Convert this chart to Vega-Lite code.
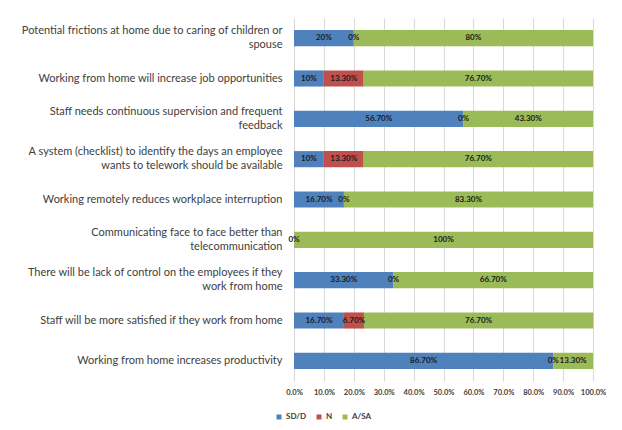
{
  "$schema": "https://vega.github.io/schema/vega-lite/v6.json",
  "width": 299,
  "height": 363,
  "autosize": {"type": "none"},
  "padding": {"left": 294, "top": 18, "right": 29, "bottom": 49},
  "background": "white",
  "config": {
    "font": "Lato",
    "view": {"stroke": null}
  },
  "data": {
    "values": [
      {"item": "Potential frictions at home due to caring of children or|spouse", "cat": "SD/D", "v": 20, "lab": "20%", "o": 1},
      {"item": "Potential frictions at home due to caring of children or|spouse", "cat": "N", "v": 0, "lab": "0%", "o": 2},
      {"item": "Potential frictions at home due to caring of children or|spouse", "cat": "A/SA", "v": 80, "lab": "80%", "o": 3},
      {"item": "Working from home will increase job opportunities", "cat": "SD/D", "v": 10, "lab": "10%", "o": 1},
      {"item": "Working from home will increase job opportunities", "cat": "N", "v": 13.3, "lab": "13.30%", "o": 2},
      {"item": "Working from home will increase job opportunities", "cat": "A/SA", "v": 76.7, "lab": "76.70%", "o": 3},
      {"item": "Staff needs continuous supervision and frequent|feedback", "cat": "SD/D", "v": 56.7, "lab": "56.70%", "o": 1},
      {"item": "Staff needs continuous supervision and frequent|feedback", "cat": "N", "v": 0, "lab": "0%", "o": 2},
      {"item": "Staff needs continuous supervision and frequent|feedback", "cat": "A/SA", "v": 43.3, "lab": "43.30%", "o": 3},
      {"item": "A system (checklist) to identify the days an employee|wants to telework should be available", "cat": "SD/D", "v": 10, "lab": "10%", "o": 1},
      {"item": "A system (checklist) to identify the days an employee|wants to telework should be available", "cat": "N", "v": 13.3, "lab": "13.30%", "o": 2},
      {"item": "A system (checklist) to identify the days an employee|wants to telework should be available", "cat": "A/SA", "v": 76.7, "lab": "76.70%", "o": 3},
      {"item": "Working remotely reduces workplace interruption", "cat": "SD/D", "v": 16.7, "lab": "16.70%", "o": 1},
      {"item": "Working remotely reduces workplace interruption", "cat": "N", "v": 0, "lab": "0%", "o": 2},
      {"item": "Working remotely reduces workplace interruption", "cat": "A/SA", "v": 83.3, "lab": "83.30%", "o": 3},
      {"item": "Communicating face to face better than|telecommunication", "cat": "SD/D", "v": 0, "lab": "0%", "o": 1},
      {"item": "Communicating face to face better than|telecommunication", "cat": "A/SA", "v": 100, "lab": "100%", "o": 3},
      {"item": "There will be lack of control on the employees if they|work from home", "cat": "SD/D", "v": 33.3, "lab": "33.30%", "o": 1},
      {"item": "There will be lack of control on the employees if they|work from home", "cat": "N", "v": 0, "lab": "0%", "o": 2},
      {"item": "There will be lack of control on the employees if they|work from home", "cat": "A/SA", "v": 66.7, "lab": "66.70%", "o": 3},
      {"item": "Staff will be more satisfied if they work from home", "cat": "SD/D", "v": 16.7, "lab": "16.70%", "o": 1},
      {"item": "Staff will be more satisfied if they work from home", "cat": "N", "v": 6.7, "lab": "6.70%", "o": 2},
      {"item": "Staff will be more satisfied if they work from home", "cat": "A/SA", "v": 76.7, "lab": "76.70%", "o": 3},
      {"item": "Working from home increases productivity", "cat": "SD/D", "v": 86.7, "lab": "86.70%", "o": 1},
      {"item": "Working from home increases productivity", "cat": "N", "v": 0, "lab": "0%", "o": 2},
      {"item": "Working from home increases productivity", "cat": "A/SA", "v": 13.3, "lab": "13.30%", "o": 3}
    ]
  },
  "encoding": {
    "y": {
      "field": "item",
      "type": "nominal",
      "sort": null,
      "title": null,
      "scale": {"paddingInner": 0.6, "paddingOuter": 0.3},
      "axis": {
        "labelExpr": "split(datum.value, '|')",
        "labelFontSize": 11,
        "labelColor": "#404040",
        "labelLineHeight": 14,
        "labelPadding": 12,
        "labelLimit": 300,
        "labelOffset": {"condition": {"test": "indexof(datum.value, '|') >= 0", "value": -7}, "value": 0},
        "ticks": false,
        "domain": true,
        "domainColor": "#D9D9D9",
        "grid": false
      }
    },
    "x": {
      "field": "v",
      "type": "quantitative",
      "stack": "zero",
      "title": null,
      "scale": {"domain": [0, 100], "nice": false},
      "axis": {
        "values": [0, 10, 20, 30, 40, 50, 60, 70, 80, 90, 100],
        "labelExpr": "format(datum.value / 100, '.1%')",
        "labelFontSize": 7.5,
        "labelFontWeight": "bold",
        "labelColor": "#404040",
        "labelPadding": 7,
        "labelOverlap": false,
        "labelFlush": false,
        "grid": true,
        "gridColor": "#D9D9D9",
        "domain": false,
        "ticks": false
      }
    },
    "order": {"field": "o", "type": "quantitative"}
  },
  "layer": [
    {
      "mark": {"type": "bar"},
      "encoding": {
        "color": {
          "field": "cat",
          "type": "nominal",
          "scale": {"domain": ["SD/D", "N", "A/SA"], "range": ["#4F81BD", "#C0504D", "#9BBB59"]},
          "legend": {
            "title": null,
            "orient": "none",
            "direction": "horizontal",
            "legendX": -19,
            "legendY": 395,
            "symbolType": "square",
            "symbolSize": 25,
            "symbolStrokeWidth": 0,
            "labelFontSize": 8,
            "labelFontWeight": "bold",
            "labelColor": "#404040",
            "labelOffset": 3,
            "columnPadding": 8,
            "padding": 0
          }
        }
      }
    },
    {
      "mark": {"type": "text", "fontSize": 8, "fontWeight": "bold", "color": "#1a1a1a"},
      "encoding": {
        "x": {"field": "v", "type": "quantitative", "stack": "zero", "bandPosition": 0.5},
        "text": {"field": "lab", "type": "nominal"}
      }
    }
  ]
}
